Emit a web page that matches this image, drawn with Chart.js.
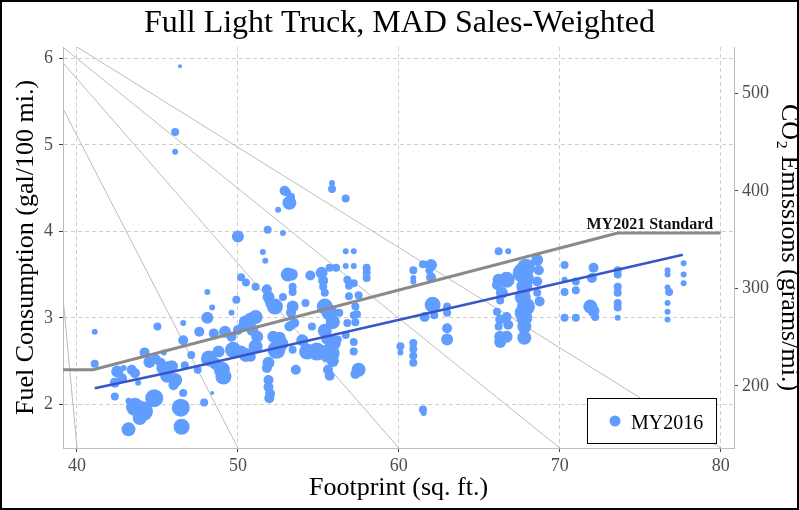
<!DOCTYPE html>
<html>
<head>
<meta charset="utf-8">
<script src="https://cdn.jsdelivr.net/npm/chart.js@4.4.1/dist/chart.umd.min.js"></script>
<style>
  html, body { margin: 0; padding: 0; background: #fff; }
  canvas { display: block; }
</style>
</head>
<body>
<canvas id="chart" width="799" height="510"></canvas>
<script>
// MY2016 models, [footprint (sq. ft.), fuel consumption (gal/100 mi.), sales weight]
const my2016Small = [
    [41.1, 2.84, 3], [41.1, 2.47, 4], [42.35, 2.09, 4], [43.2, 1.71, 7], [43.2, 2.04, 3],
    [42.5, 2.38, 6], [42.35, 2.25, 5], [42.8, 2.3, 5], [43.4, 2.4, 5], [43.6, 2.36, 5],
    [44.2, 2.6, 5], [43.8, 2.25, 3], [44.5, 2.49, 6], [44.1, 1.92, 10], [44.8, 2.07, 9],
    [43.6, 1.97, 9], [43.9, 1.84, 7], [45.0, 2.9, 4], [45.4, 2.6, 3], [45.3, 2.42, 6],
    [45.7, 2.42, 7], [45.9, 2.44, 6], [45.6, 2.33, 7], [46.1, 2.28, 7], [46.0, 2.22, 5],
    [45.2, 2.48, 5], [46.45, 1.96, 9], [46.5, 1.74, 8], [46.6, 2.13, 4], [46.6, 2.74, 5],
    [46.6, 2.94, 3], [46.7, 2.45, 4], [42.9, 2.42, 3], [44.9, 2.52, 5],
    [46.4, 5.91, 2], [46.1, 5.15, 4], [46.1, 4.92, 3]
];
const my2016Mid = [
    [47.1, 2.57, 4], [47.5, 2.4, 4], [47.6, 2.84, 5], [47.9, 2.02, 4], [48.1, 3.3, 3],
    [48.1, 3.0, 6], [48.2, 2.53, 8], [48.4, 3.12, 3], [48.4, 2.13, 2], [48.5, 2.82, 5],
    [48.8, 2.61, 6], [48.6, 2.47, 6], [49.0, 2.4, 8], [49.1, 2.32, 8], [49.2, 2.84, 6],
    [49.6, 2.78, 5], [49.6, 3.06, 3], [49.9, 3.21, 4], [50.0, 2.86, 5], [49.8, 2.6, 6],
    [50.2, 2.61, 6], [50.0, 3.94, 6], [50.2, 3.47, 4], [50.5, 3.41, 4], [51.1, 3.36, 4],
    [50.8, 2.98, 7], [51.1, 3.01, 7], [51.1, 2.67, 7], [50.8, 2.55, 5], [50.5, 2.95, 7],
    [50.9, 2.86, 6], [51.2, 2.78, 6], [50.3, 2.9, 5], [49.7, 2.63, 8], [50.5, 2.57, 7],
    [51.55, 3.76, 3], [51.7, 3.66, 3], [51.85, 4.02, 4], [52.8, 3.98, 3], [52.9, 4.47, 5],
    [53.05, 4.45, 4], [53.2, 4.33, 7], [53.3, 4.4, 4], [52.5, 4.25, 3], [55.85, 4.56, 3],
    [55.85, 4.49, 4], [56.7, 4.38, 4],
    [56.7, 3.77, 3], [57.2, 3.77, 3], [55.7, 3.58, 4], [56.1, 3.58, 4], [56.7, 3.6, 3],
    [57.2, 3.6, 3], [58.0, 3.58, 4], [58.0, 3.52, 4], [58.0, 3.46, 4], [53.1, 3.5, 7],
    [53.35, 3.5, 6], [54.5, 3.49, 5], [55.2, 3.52, 6], [55.3, 3.43, 5], [55.3, 3.36, 4],
    [55.4, 3.29, 4], [51.8, 3.33, 5], [51.9, 3.24, 6], [52.0, 3.17, 5], [53.4, 3.36, 4],
    [53.4, 3.3, 4], [52.8, 3.24, 4], [56.8, 3.44, 4], [56.9, 3.37, 4], [57.2, 3.4, 4],
    [56.9, 3.25, 4], [57.5, 3.26, 4], [52.3, 3.13, 8], [53.4, 3.13, 6], [53.3, 3.06, 5],
    [54.2, 3.17, 4], [55.4, 3.13, 8], [55.7, 3.06, 8], [55.9, 2.95, 7], [56.3, 3.06, 4],
    [57.3, 3.13, 4], [57.4, 3.04, 4], [57.3, 2.95, 4], [57.2, 3.03, 4], [57.2, 2.72, 4],
    [52.2, 2.78, 6], [52.4, 2.63, 9], [51.9, 2.48, 6], [51.8, 2.42, 5], [51.9, 2.28, 5],
    [51.9, 2.2, 5], [52.0, 2.12, 5], [51.95, 2.07, 5], [52.6, 2.77, 6], [52.7, 2.7, 7],
    [53.6, 2.4, 5], [53.4, 2.63, 4], [54.0, 2.74, 6], [53.5, 2.94, 5], [54.9, 2.61, 9],
    [54.3, 2.61, 8], [55.4, 2.85, 7], [55.5, 2.75, 5], [55.7, 2.59, 10], [55.9, 2.71, 8],
    [55.9, 2.5, 6], [55.6, 2.4, 5], [55.7, 2.33, 5], [56.2, 2.75, 4], [56.8, 2.94, 4],
    [56.7, 2.8, 4], [57.2, 2.61, 4], [57.5, 2.4, 7], [57.3, 2.35, 5], [53.2, 2.9, 5],
    [54.6, 2.9, 4]
];
const my2016Large = [
    [60.1, 2.67, 4], [60.1, 2.6, 3], [60.9, 2.71, 4], [60.9, 2.64, 4], [60.9, 2.56, 4],
    [60.9, 2.48, 4], [60.9, 3.55, 4], [60.9, 3.46, 3], [60.9, 3.42, 3], [61.5, 3.62, 4],
    [62.0, 3.61, 6], [61.9, 3.55, 4], [62.0, 3.47, 5], [62.1, 3.15, 8], [61.6, 3.01, 5],
    [62.2, 3.03, 4], [63.0, 3.13, 4], [63.0, 3.06, 4], [63.0, 2.88, 5], [63.0, 2.75, 6],
    [61.5, 1.94, 4], [61.55, 1.9, 3]
];
const my2016Full = [
    [66.2, 3.77, 4], [66.8, 3.77, 3], [66.2, 3.44, 6], [66.7, 3.44, 8], [66.1, 3.38, 5],
    [66.4, 3.29, 6], [66.3, 3.2, 4], [66.1, 3.07, 4], [66.3, 2.98, 5], [66.2, 2.9, 4],
    [66.3, 2.78, 6], [66.3, 2.72, 6], [66.7, 3.01, 5], [66.8, 2.92, 5], [66.7, 2.78, 6],
    [67.7, 3.52, 10], [67.9, 3.58, 9], [68.6, 3.67, 6], [68.7, 3.55, 5], [67.8, 3.36, 8],
    [67.7, 3.24, 8], [67.9, 3.13, 9], [67.7, 3.06, 8], [67.8, 3.0, 8], [67.8, 2.9, 7],
    [67.8, 2.77, 7], [68.6, 3.29, 4], [68.75, 3.19, 5], [68.6, 3.42, 5], [67.9, 3.45, 8]
];
const my2016Heavy = [
    [70.3, 3.61, 4], [70.3, 3.44, 3], [70.3, 3.3, 4], [70.3, 3.0, 4], [71.0, 3.42, 4],
    [71.0, 3.32, 4], [71.0, 3.0, 4], [72.1, 3.58, 5], [72.0, 3.46, 5], [71.9, 3.13, 7],
    [72.1, 3.08, 6], [72.2, 3.01, 4], [73.6, 3.55, 4], [73.6, 3.5, 4], [73.6, 3.36, 4],
    [73.6, 3.29, 4], [73.6, 3.17, 4], [73.6, 3.12, 4], [73.6, 3.0, 3], [76.7, 3.55, 3],
    [76.7, 3.5, 3], [76.7, 3.35, 3], [76.8, 3.3, 4], [76.7, 3.17, 3], [76.7, 3.07, 3],
    [76.7, 2.98, 3], [77.7, 3.63, 3], [77.7, 3.5, 3], [77.7, 3.4, 3]
];

// sales-weighted fit through MY2016
const fitFootprint = [41.1, 46.0, 77.65];
const fitFuel = [2.185, 2.38, 3.73];

// MY2021 standard curve
const stdFootprint = [39.13, 41.0, 73.6, 80.0];
const stdFuel = [2.4, 2.4, 3.98, 3.98];

// thin grey guide lines, each [start, end] as [footprint, fuel]
const guideLines = [
    [[40.0, 6.133], [80.0, 1.494]],
    [[39.13, 6.13], [70.0, 1.494]],
    [[39.13, 5.95], [60.0, 1.494]],
    [[39.13, 5.42], [50.0, 1.494]],
    [[39.13, 3.24], [40.0, 1.494]]
];

const xTicks = [40, 50, 60, 70, 80];
const yTicks = [2, 3, 4, 5, 6];
const co2Ticks = [200, 300, 400, 500];

const xRange = [39.13, 80.83];
const yRange = [1.494, 6.133];
const co2Range = [136.3, 547.4];

const serif = '"Liberation Serif", "Times New Roman", serif';
const bubbleColor = 'rgb(97,156,255)';
const gridColor = '#cfcfcf';
const axisColor = '#bdbdbd';
const tickText = '#4d4d4d';

Chart.defaults.font.family = serif;

const points = [].concat(my2016Small, my2016Mid, my2016Large, my2016Full, my2016Heavy)
    .map(p => ({ x: p[0], y: p[1], r: p[2] }));

function toXY(xs, ys) {
    return xs.map((x, i) => ({ x: x, y: ys[i] }));
}

const guideSets = guideLines.map(seg => ({
    type: 'line',
    data: seg.map(p => ({ x: p[0], y: p[1] })),
    borderColor: '#bcbcbc',
    borderWidth: 1,
    pointRadius: 0,
    fill: false,
    order: 5
}));

const decorations = {
    id: 'decorations',
    afterDatasetsDraw(chart) {
        const { ctx, chartArea, scales } = chart;
        ctx.save();

        // label over the standard line
        ctx.font = 'bold 16px ' + serif;
        ctx.fillStyle = '#111';
        ctx.textAlign = 'center';
        ctx.textBaseline = 'alphabetic';
        ctx.fillText('MY2021 Standard', scales.x.getPixelForValue(75.6), scales.y.getPixelForValue(stdFuel[3]) - 4);

        // legend box
        const w = 129, h = 45;
        const bx = Math.round(chartArea.right - 18 - w);
        const by = Math.round(chartArea.bottom - 5 - h);
        ctx.fillStyle = '#fff';
        ctx.fillRect(bx, by, w, h);
        ctx.strokeStyle = '#000';
        ctx.lineWidth = 1;
        ctx.strokeRect(bx + 0.5, by + 0.5, w, h);
        ctx.fillStyle = bubbleColor;
        ctx.beginPath();
        ctx.arc(bx + 28, by + 23, 5.5, 0, Math.PI * 2);
        ctx.fill();
        ctx.fillStyle = '#000';
        ctx.font = '20px ' + serif;
        ctx.textAlign = 'left';
        ctx.fillText('MY2016', bx + 44, by + 31);
        ctx.restore();
    },
    afterDraw(chart) {
        const ctx = chart.ctx;
        ctx.save();
        ctx.strokeStyle = '#000';
        ctx.lineWidth = 2;
        ctx.strokeRect(1, 1, chart.width - 2, chart.height - 2);
        ctx.restore();
    }
};

new Chart(document.getElementById('chart'), {
    type: 'bubble',
    data: {
        datasets: [
            {
                label: 'MY2016',
                data: points,
                backgroundColor: bubbleColor,
                borderWidth: 0,
                hoverRadius: 0,
                order: 3
            },
            {
                type: 'line',
                label: 'fit',
                data: toXY(fitFootprint, fitFuel),
                borderColor: '#3656c9',
                borderWidth: 2.5,
                pointRadius: 0,
                fill: false,
                order: 1
            },
            {
                type: 'line',
                label: 'MY2021 Standard',
                data: toXY(stdFootprint, stdFuel),
                borderColor: '#8a8a8a',
                borderWidth: 3,
                pointRadius: 0,
                fill: false,
                order: 0
            }
        ].concat(guideSets)
    },
    options: {
        responsive: false,
        animation: false,
        events: [],
        layout: { padding: 0 },
        plugins: {
            legend: { display: false },
            tooltip: { enabled: false },
            title: {
                display: true,
                text: 'Full Light Truck, MAD Sales-Weighted',
                color: '#000',
                font: { size: 32, weight: 'normal', family: serif },
                padding: { top: 4.3, bottom: 4.3 }
            }
        },
        scales: {
            x: {
                type: 'linear',
                position: 'bottom',
                min: xRange[0],
                max: xRange[1],
                afterFit: s => { s.height = 62; },
                afterBuildTicks: s => { s.ticks = xTicks.map(v => ({ value: v })); },
                ticks: { color: tickText, font: { size: 18 }, padding: 3 },
                grid: { color: gridColor, tickLength: 4, tickColor: '#444', tickBorderDash: [] },
                border: { color: axisColor, dash: [4, 3] },
                title: {
                    display: true,
                    text: 'Footprint (sq. ft.)',
                    color: '#000',
                    font: { size: 26 },
                    padding: { top: 0, bottom: 6.4 }
                }
            },
            y: {
                type: 'linear',
                position: 'left',
                min: yRange[0],
                max: yRange[1],
                afterFit: s => { s.width = 63; },
                afterBuildTicks: s => { s.ticks = yTicks.map(v => ({ value: v })); },
                ticks: { color: tickText, font: { size: 18 }, padding: 6 },
                grid: { color: gridColor, tickLength: 4, tickColor: '#444', tickBorderDash: [] },
                border: { color: axisColor, dash: [4, 3] },
                title: {
                    display: true,
                    text: 'Fuel Consumption (gal/100 mi.)',
                    color: '#000',
                    font: { size: 26 },
                    padding: { top: 10.4, bottom: 0 }
                }
            },
            y2: {
                type: 'linear',
                position: 'right',
                min: co2Range[0],
                max: co2Range[1],
                afterFit: s => { s.width = 65; },
                afterBuildTicks: s => { s.ticks = co2Ticks.map(v => ({ value: v })); },
                ticks: { color: tickText, font: { size: 18 }, padding: 4 },
                grid: { drawOnChartArea: false, tickLength: 4, tickColor: '#444' },
                border: { color: axisColor },
                title: {
                    display: true,
                    text: 'CO\u2082 Emissions (grams/mi.)',
                    color: '#000',
                    font: { size: 26 },
                    padding: { top: -5.6, bottom: 0 }
                }
            }
        }
    },
    plugins: [decorations]
});
</script>
</body>
</html>
